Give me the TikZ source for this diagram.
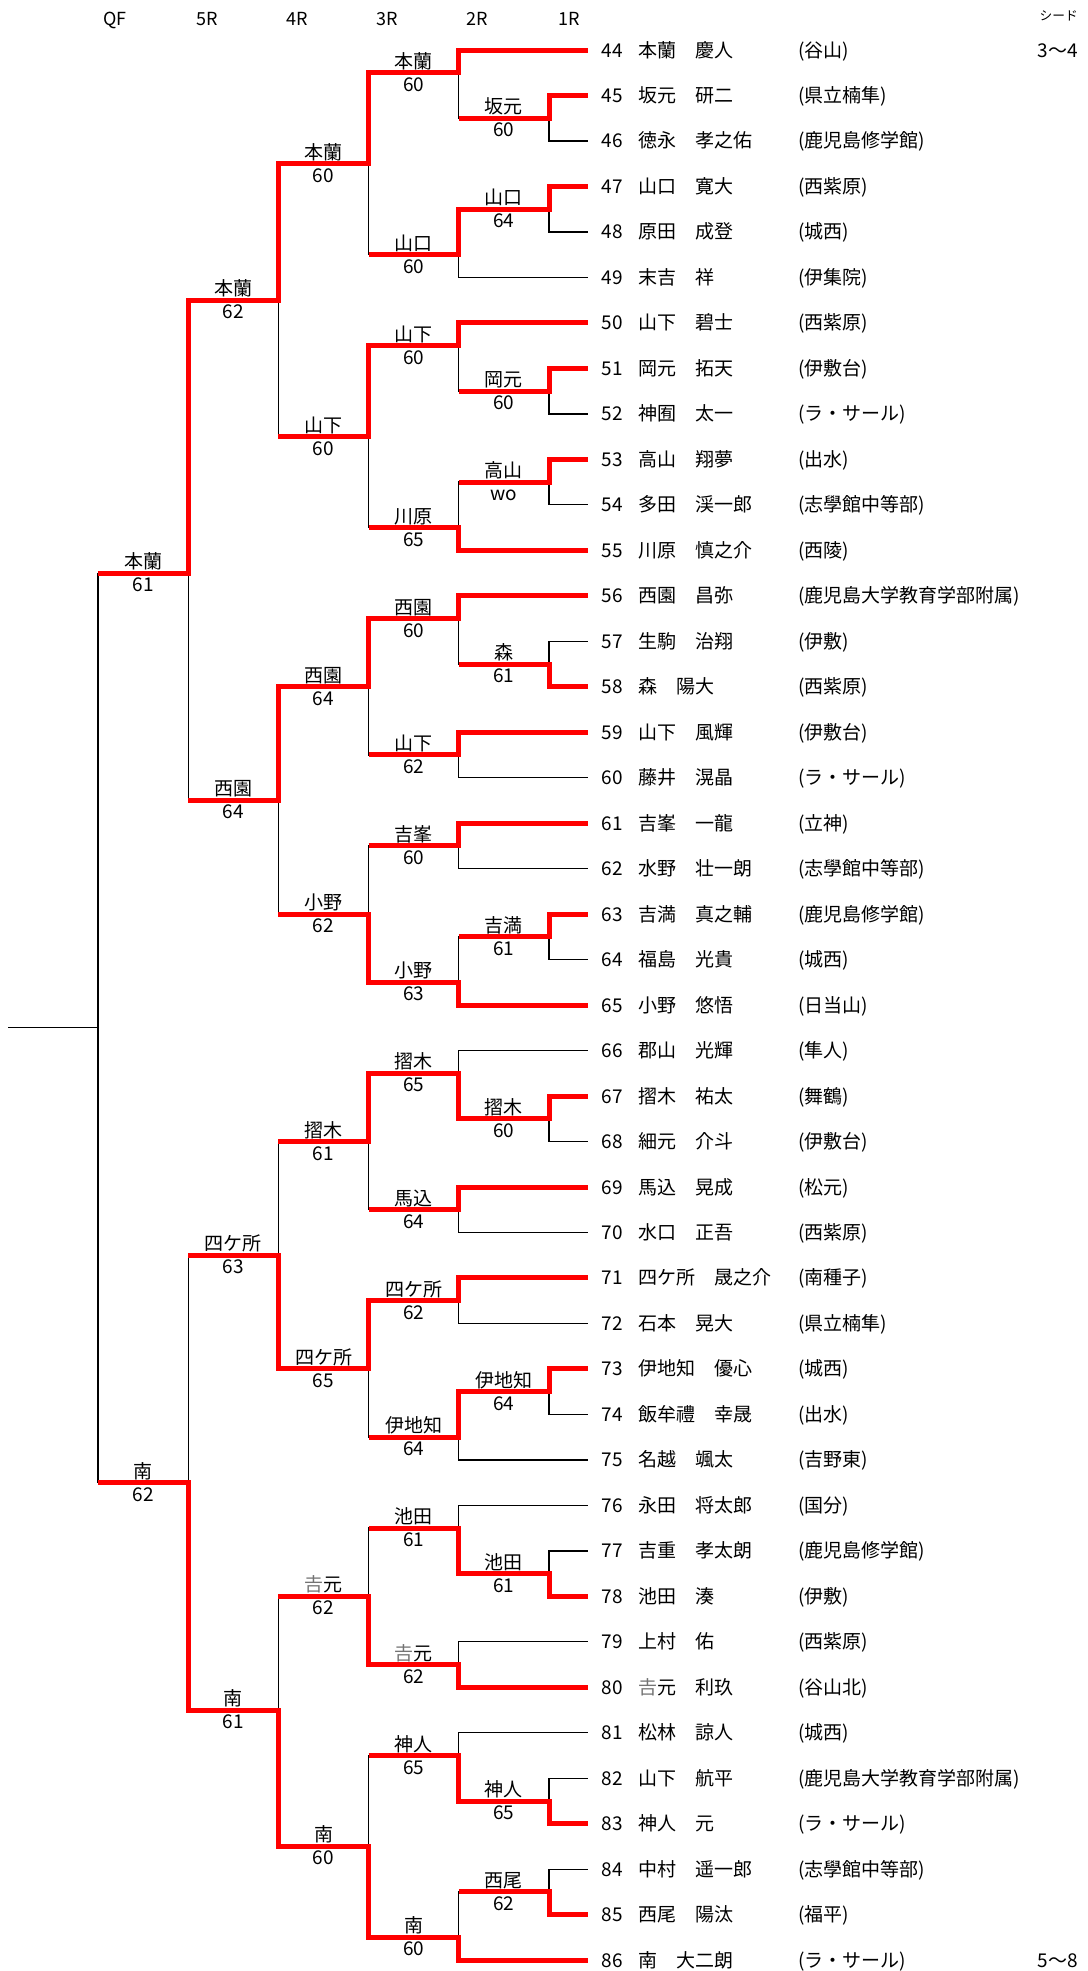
\documentclass[tikz,border=0pt]{standalone}
\usepackage{fontspec}
\setmainfont{Noto Sans CJK JP}
\usetikzlibrary{calc}

\newcommand\tsuchiyoshi{{\color{black!55}𠮷}}

% match / x / y / parent / winner / loser / name / score
\newcommand\matchlist{%
  r1m45/549/45.5/r2m44/p45/p46/坂元/60,
  r1m47/549/47.5/r2m47/p47/p48/山口/64,
  r1m51/549/51.5/r2m50/p51/p52/岡元/60,
  r1m53/549/53.5/r2m53/p53/p54/高山/wo,
  r1m57/549/57.5/r2m56/p58/p57/森/61,
  r1m63/549/63.5/r2m63/p63/p64/吉満/61,
  r1m67/549/67.5/r2m66/p67/p68/摺木/60,
  r1m73/549/73.5/r2m73/p73/p74/伊地知/64,
  r1m77/549/77.5/r2m76/p78/p77/池田/61,
  r1m82/549/82.5/r2m81/p83/p82/神人/65,
  r1m84/549/84.5/r2m84/p85/p84/西尾/62,
  r2m44/458.8/44.5/r3m44/p44/r1m45/本蘭/60,
  r2m47/458.8/48.5/r3m44/r1m47/p49/山口/60,
  r2m50/458.8/50.5/r3m50/p50/r1m51/山下/60,
  r2m53/458.8/54.5/r3m50/p55/r1m53/川原/65,
  r2m56/458.8/56.5/r3m56/p56/r1m57/西園/60,
  r2m59/458.8/59.5/r3m56/p59/p60/山下/62,
  r2m61/458.8/61.5/r3m61/p61/p62/吉峯/60,
  r2m63/458.8/64.5/r3m61/p65/r1m63/小野/63,
  r2m66/458.8/66.5/r3m66/r1m67/p66/摺木/65,
  r2m69/458.8/69.5/r3m66/p69/p70/馬込/64,
  r2m71/458.8/71.5/r3m71/p71/p72/四ケ所/62,
  r2m73/458.8/74.5/r3m71/r1m73/p75/伊地知/64,
  r2m76/458.8/76.5/r3m76/r1m77/p76/池田/61,
  r2m79/458.8/79.5/r3m76/p80/p79/\tsuchiyoshi{}元/62,
  r2m81/458.8/81.5/r3m81/r1m82/p81/神人/65,
  r2m84/458.8/85.5/r3m81/p86/r1m84/南/60,
  r3m44/368.6/46.5/r4m44/r2m44/r2m47/本蘭/60,
  r3m50/368.6/52.5/r4m44/r2m50/r2m53/山下/60,
  r3m56/368.6/58/r4m56/r2m56/r2m59/西園/64,
  r3m61/368.6/63/r4m56/r2m63/r2m61/小野/62,
  r3m66/368.6/68/r4m66/r2m66/r2m69/摺木/61,
  r3m71/368.6/73/r4m66/r2m71/r2m73/四ケ所/65,
  r3m76/368.6/78/r4m76/r2m79/r2m76/\tsuchiyoshi{}元/62,
  r3m81/368.6/83.5/r4m76/r2m84/r2m81/南/60,
  r4m44/278.4/49.5/r5m44/r3m44/r3m50/本蘭/62,
  r4m56/278.4/60.5/r5m44/r3m56/r3m61/西園/64,
  r4m66/278.4/70.5/r5m66/r3m71/r3m66/四ケ所/63,
  r4m76/278.4/80.5/r5m66/r3m81/r3m76/南/61,
  r5m44/188.2/55.5/qf/r4m44/r4m56/本蘭/61,
  r5m66/188.2/75.5/qf/r4m76/r4m66/南/62%
}

\begin{document}
\begin{tikzpicture}[x=1pt, y=-45.48pt,
    every node/.style={inner sep=0pt, font=\fontsize{19pt}{22pt}\selectfont},
    winline/.style={draw=red, line width=5pt},
    loseline/.style={draw=black, line width=1.3pt},
    wname/.style={anchor=base, yshift=4.5pt},
    wscore/.style={anchor=base, yshift=-18.5pt},
    rowtext/.style={anchor=base west, yshift=-7pt},
    hdr/.style={anchor=base, font=\fontsize{18pt}{21pt}\selectfont}]

    \useasboundingbox (0,42.9006) rectangle (1088,86.2388);

    % round headers
    \node[hdr] (hqf) at (115,43.45) {QF};
    \node[hdr] (h5r) at (207,43.45) {5R};
    \node[hdr] (h4r) at (297,43.45) {4R};
    \node[hdr] (h3r) at (387,43.45) {3R};
    \node[hdr] (h2r) at (477,43.45) {2R};
    \node[hdr] (h1r) at (569,43.45) {1R};
    \node[anchor=base east, font=\fontsize{12.7pt}{15pt}\selectfont] (seed) at (1078,43.358) {シード};
    \node[rowtext, anchor=base east] (seedtop) at (1078,44) {3〜4};
    \node[rowtext, anchor=base east] (seedbot) at (1078,86) {5〜8};

    % players
    \foreach \n/\pn/\school in {
        44/本蘭　慶人/谷山, 45/坂元　研二/県立楠隼, 46/徳永　孝之佑/鹿児島修学館,
        47/山口　寛大/西紫原, 48/原田　成登/城西, 49/末吉　祥/伊集院,
        50/山下　碧士/西紫原, 51/岡元　拓天/伊敷台, 52/神囿　太一/ラ・サール,
        53/高山　翔夢/出水, 54/多田　渓一郎/志學館中等部, 55/川原　慎之介/西陵,
        56/西園　昌弥/鹿児島大学教育学部附属, 57/生駒　治翔/伊敷, 58/森　陽大/西紫原,
        59/山下　風輝/伊敷台, 60/藤井　滉晶/ラ・サール, 61/吉峯　一龍/立神,
        62/水野　壮一朗/志學館中等部, 63/吉満　真之輔/鹿児島修学館, 64/福島　光貴/城西,
        65/小野　悠悟/日当山, 66/郡山　光輝/隼人, 67/摺木　祐太/舞鶴,
        68/細元　介斗/伊敷台, 69/馬込　晃成/松元, 70/水口　正吾/西紫原,
        71/四ケ所　晟之介/南種子, 72/石本　晃大/県立楠隼, 73/伊地知　優心/城西,
        74/飯牟禮　幸晟/出水, 75/名越　颯太/吉野東, 76/永田　将太郎/国分,
        77/吉重　孝太朗/鹿児島修学館, 78/池田　湊/伊敷, 79/上村　佑/西紫原,
        80/\tsuchiyoshi{}元　利玖/谷山北, 81/松林　諒人/城西, 82/山下　航平/鹿児島大学教育学部附属,
        83/神人　元/ラ・サール, 84/中村　遥一郎/志學館中等部, 85/西尾　陽汰/福平,
        86/南　大二朗/ラ・サール} {
        \coordinate (p\n) at (588,\n);
        \node[rowtext] (num\n) at (601.7,\n) {\n};
        \node[rowtext] (name\n) at (638,\n) {\pn};
        \node[rowtext] (school\n) at (798,\n) {(\school)};
    }

    % junctions
    \coordinate (qf) at (98,65.5);
    \coordinate (stub) at (8,65.5);
    \foreach \mt/\mx/\my/\pa/\wi/\lo/\nm/\scr in \matchlist
        \coordinate (\mt) at (\mx,\my);

    % open final stub
    \draw[loseline] (stub) -- (qf);
    \draw[loseline] (qf |- r5m44) -- (qf |- r5m66);

    % losing side
    \foreach \mt/\mx/\my/\pa/\wi/\lo/\nm/\scr in \matchlist
        \draw[loseline] (\mt) -- (\mt |- \lo) -- (\lo);

    % winning side
    \foreach \mt/\mx/\my/\pa/\wi/\lo/\nm/\scr in \matchlist
        \draw[winline] (\pa |- \mt) -- (\mt) -- (\mt |- \wi) -- (\wi);

    % winner and score
    \foreach \mt/\mx/\my/\pa/\wi/\lo/\nm/\scr in \matchlist {
        \node[wname] (n\mt) at ([xshift=-45.1pt]\mt) {\nm};
        \node[wscore] (s\mt) at ([xshift=-45.1pt]\mt) {\scr};
    }

\end{tikzpicture}
\end{document}
